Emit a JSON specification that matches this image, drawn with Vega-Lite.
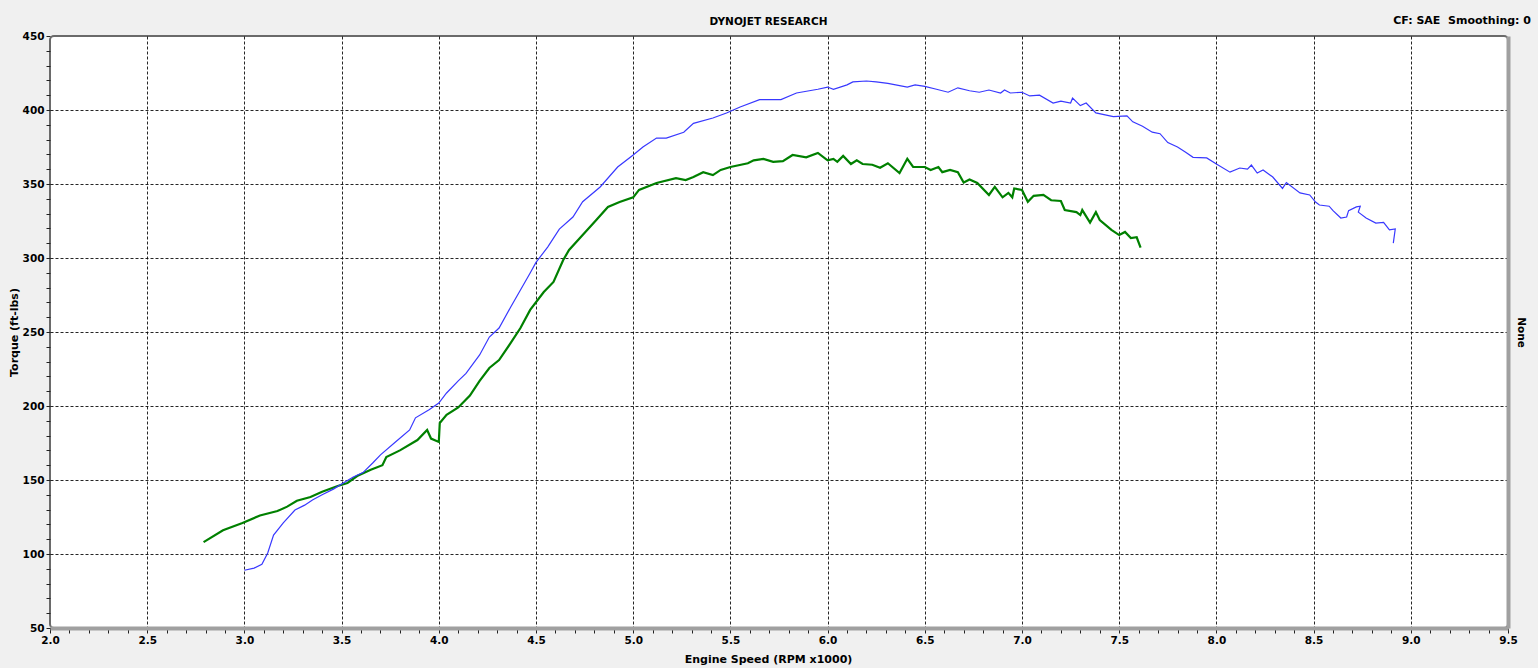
{
  "$schema": "https://vega.github.io/schema/vega-lite/v6.json",
  "width": 1458,
  "height": 592,
  "autosize": "none",
  "padding": {"left": 50, "top": 36, "right": 30, "bottom": 40},
  "background": "#f0f0f0",
  "config": {
    "view": {"fill": "white", "stroke": "#6a6a6a", "strokeWidth": 2, "cornerRadius": 4},
    "font": "DejaVu Sans",
    "axis": {"labelFont": "DejaVu Sans", "titleFont": "DejaVu Sans", "labelFontWeight": "bold", "titleFontWeight": "bold", "labelFontSize": 10.5, "titleFontSize": 11, "labelColor": "black", "titleColor": "black"}
  },
  "title": {"text": "CF: SAE\u00a0 Smoothing: 0", "anchor": "end", "frame": "group", "dx": 23, "dy": 14, "fontSize": 11, "fontWeight": "bold", "font": "DejaVu Sans", "color": "black"},
  "data": {"values": [
    {"s":"B","i":0,"rpm":2.79,"tq":108},{"s":"B","i":1,"rpm":2.89,"tq":116},{"s":"B","i":2,"rpm":2.99,"tq":121},{"s":"B","i":3,"rpm":3.08,"tq":126},{"s":"B","i":4,"rpm":3.17,"tq":129},{"s":"B","i":5,"rpm":3.22,"tq":132},{"s":"B","i":6,"rpm":3.27,"tq":136},{"s":"B","i":7,"rpm":3.34,"tq":138.5},{"s":"B","i":8,"rpm":3.40,"tq":142},{"s":"B","i":9,"rpm":3.48,"tq":146},{"s":"B","i":10,"rpm":3.53,"tq":148},{"s":"B","i":11,"rpm":3.58,"tq":152.7},{"s":"B","i":12,"rpm":3.65,"tq":157},{"s":"B","i":13,"rpm":3.71,"tq":160},{"s":"B","i":14,"rpm":3.73,"tq":165.5},{"s":"B","i":15,"rpm":3.80,"tq":170},{"s":"B","i":16,"rpm":3.89,"tq":177},{"s":"B","i":17,"rpm":3.94,"tq":183.8},{"s":"B","i":18,"rpm":3.96,"tq":178},{"s":"B","i":19,"rpm":4.00,"tq":175.7},{"s":"B","i":20,"rpm":4.005,"tq":188.5},{"s":"B","i":21,"rpm":4.04,"tq":194},{"s":"B","i":22,"rpm":4.10,"tq":199},{"s":"B","i":23,"rpm":4.16,"tq":207},{"s":"B","i":24,"rpm":4.21,"tq":217},{"s":"B","i":25,"rpm":4.26,"tq":225.7},{"s":"B","i":26,"rpm":4.31,"tq":231},{"s":"B","i":27,"rpm":4.37,"tq":242.6},{"s":"B","i":28,"rpm":4.42,"tq":252.7},{"s":"B","i":29,"rpm":4.47,"tq":264.9},{"s":"B","i":30,"rpm":4.54,"tq":277},{"s":"B","i":31,"rpm":4.59,"tq":283.8},{"s":"B","i":32,"rpm":4.64,"tq":298.6},{"s":"B","i":33,"rpm":4.67,"tq":305.4},{"s":"B","i":34,"rpm":4.74,"tq":315.5},{"s":"B","i":35,"rpm":4.81,"tq":325.7},{"s":"B","i":36,"rpm":4.87,"tq":334.5},{"s":"B","i":37,"rpm":4.93,"tq":337.8},{"s":"B","i":38,"rpm":5.00,"tq":341},{"s":"B","i":39,"rpm":5.03,"tq":346},{"s":"B","i":40,"rpm":5.12,"tq":350.7},{"s":"B","i":41,"rpm":5.22,"tq":354},{"s":"B","i":42,"rpm":5.27,"tq":352.7},{"s":"B","i":43,"rpm":5.31,"tq":354.7},{"s":"B","i":44,"rpm":5.36,"tq":358},{"s":"B","i":45,"rpm":5.41,"tq":356},{"s":"B","i":46,"rpm":5.45,"tq":359.5},{"s":"B","i":47,"rpm":5.50,"tq":361.5},{"s":"B","i":48,"rpm":5.59,"tq":364},{"s":"B","i":49,"rpm":5.62,"tq":366},{"s":"B","i":50,"rpm":5.67,"tq":367},{"s":"B","i":51,"rpm":5.72,"tq":365},{"s":"B","i":52,"rpm":5.77,"tq":365.5},{"s":"B","i":53,"rpm":5.82,"tq":369.6},{"s":"B","i":54,"rpm":5.89,"tq":368},{"s":"B","i":55,"rpm":5.95,"tq":371},{"s":"B","i":56,"rpm":6.00,"tq":366},{"s":"B","i":57,"rpm":6.03,"tq":367},{"s":"B","i":58,"rpm":6.05,"tq":365},{"s":"B","i":59,"rpm":6.08,"tq":369},{"s":"B","i":60,"rpm":6.12,"tq":363.5},{"s":"B","i":61,"rpm":6.15,"tq":366},{"s":"B","i":62,"rpm":6.18,"tq":363.5},{"s":"B","i":63,"rpm":6.23,"tq":363},{"s":"B","i":64,"rpm":6.27,"tq":361},{"s":"B","i":65,"rpm":6.31,"tq":364},{"s":"B","i":66,"rpm":6.37,"tq":357.4},{"s":"B","i":67,"rpm":6.41,"tq":367},{"s":"B","i":68,"rpm":6.44,"tq":361.5},{"s":"B","i":69,"rpm":6.50,"tq":361.5},{"s":"B","i":70,"rpm":6.53,"tq":359.5},{"s":"B","i":71,"rpm":6.57,"tq":361.5},{"s":"B","i":72,"rpm":6.59,"tq":358},{"s":"B","i":73,"rpm":6.63,"tq":359.5},{"s":"B","i":74,"rpm":6.67,"tq":358},{"s":"B","i":75,"rpm":6.70,"tq":351},{"s":"B","i":76,"rpm":6.73,"tq":353},{"s":"B","i":77,"rpm":6.77,"tq":350.7},{"s":"B","i":78,"rpm":6.83,"tq":342.6},{"s":"B","i":79,"rpm":6.86,"tq":348},{"s":"B","i":80,"rpm":6.90,"tq":341},{"s":"B","i":81,"rpm":6.93,"tq":344},{"s":"B","i":82,"rpm":6.95,"tq":341},{"s":"B","i":83,"rpm":6.96,"tq":347},{"s":"B","i":84,"rpm":7.00,"tq":346},{"s":"B","i":85,"rpm":7.03,"tq":338},{"s":"B","i":86,"rpm":7.06,"tq":342},{"s":"B","i":87,"rpm":7.11,"tq":342.6},{"s":"B","i":88,"rpm":7.15,"tq":339},{"s":"B","i":89,"rpm":7.20,"tq":338.5},{"s":"B","i":90,"rpm":7.22,"tq":332.4},{"s":"B","i":91,"rpm":7.28,"tq":331},{"s":"B","i":92,"rpm":7.30,"tq":329},{"s":"B","i":93,"rpm":7.31,"tq":332.4},{"s":"B","i":94,"rpm":7.35,"tq":324},{"s":"B","i":95,"rpm":7.38,"tq":331},{"s":"B","i":96,"rpm":7.40,"tq":325.7},{"s":"B","i":97,"rpm":7.46,"tq":319},{"s":"B","i":98,"rpm":7.50,"tq":315.5},{"s":"B","i":99,"rpm":7.53,"tq":317.6},{"s":"B","i":100,"rpm":7.56,"tq":313.5},{"s":"B","i":101,"rpm":7.59,"tq":314},{"s":"B","i":102,"rpm":7.61,"tq":307},
    {"s":"A","i":0,"rpm":3.00,"tq":89},{"s":"A","i":1,"rpm":3.05,"tq":90.5},{"s":"A","i":2,"rpm":3.09,"tq":93},{"s":"A","i":3,"rpm":3.12,"tq":100.7},{"s":"A","i":4,"rpm":3.15,"tq":112.8},{"s":"A","i":5,"rpm":3.20,"tq":121},{"s":"A","i":6,"rpm":3.26,"tq":129.7},{"s":"A","i":7,"rpm":3.31,"tq":133},{"s":"A","i":8,"rpm":3.35,"tq":136.5},{"s":"A","i":9,"rpm":3.40,"tq":140},{"s":"A","i":10,"rpm":3.46,"tq":144},{"s":"A","i":11,"rpm":3.50,"tq":147.3},{"s":"A","i":12,"rpm":3.56,"tq":152},{"s":"A","i":13,"rpm":3.61,"tq":155},{"s":"A","i":14,"rpm":3.66,"tq":161.5},{"s":"A","i":15,"rpm":3.70,"tq":167},{"s":"A","i":16,"rpm":3.78,"tq":176},{"s":"A","i":17,"rpm":3.85,"tq":183.8},{"s":"A","i":18,"rpm":3.88,"tq":192},{"s":"A","i":19,"rpm":3.95,"tq":197.5},{"s":"A","i":20,"rpm":4.00,"tq":202},{"s":"A","i":21,"rpm":4.04,"tq":208.8},{"s":"A","i":22,"rpm":4.10,"tq":217},{"s":"A","i":23,"rpm":4.14,"tq":222},{"s":"A","i":24,"rpm":4.21,"tq":234.5},{"s":"A","i":25,"rpm":4.26,"tq":246.6},{"s":"A","i":26,"rpm":4.31,"tq":252.7},{"s":"A","i":27,"rpm":4.37,"tq":266.9},{"s":"A","i":28,"rpm":4.42,"tq":278.4},{"s":"A","i":29,"rpm":4.47,"tq":289.9},{"s":"A","i":30,"rpm":4.50,"tq":297},{"s":"A","i":31,"rpm":4.56,"tq":307.4},{"s":"A","i":32,"rpm":4.62,"tq":319.5},{"s":"A","i":33,"rpm":4.69,"tq":327.7},{"s":"A","i":34,"rpm":4.74,"tq":338},{"s":"A","i":35,"rpm":4.83,"tq":348},{"s":"A","i":36,"rpm":4.92,"tq":361.5},{"s":"A","i":37,"rpm":5.00,"tq":369.6},{"s":"A","i":38,"rpm":5.05,"tq":375},{"s":"A","i":39,"rpm":5.12,"tq":381},{"s":"A","i":40,"rpm":5.17,"tq":381},{"s":"A","i":41,"rpm":5.26,"tq":385},{"s":"A","i":42,"rpm":5.31,"tq":391},{"s":"A","i":43,"rpm":5.41,"tq":394.6},{"s":"A","i":44,"rpm":5.48,"tq":398},{"s":"A","i":45,"rpm":5.55,"tq":402},{"s":"A","i":46,"rpm":5.65,"tq":407},{"s":"A","i":47,"rpm":5.76,"tq":407},{"s":"A","i":48,"rpm":5.84,"tq":411.5},{"s":"A","i":49,"rpm":5.95,"tq":414},{"s":"A","i":50,"rpm":6.00,"tq":415.5},{"s":"A","i":51,"rpm":6.03,"tq":414},{"s":"A","i":52,"rpm":6.10,"tq":417},{"s":"A","i":53,"rpm":6.13,"tq":419},{"s":"A","i":54,"rpm":6.20,"tq":419.6},{"s":"A","i":55,"rpm":6.25,"tq":419},{"s":"A","i":56,"rpm":6.31,"tq":418},{"s":"A","i":57,"rpm":6.41,"tq":415.5},{"s":"A","i":58,"rpm":6.45,"tq":417},{"s":"A","i":59,"rpm":6.50,"tq":416},{"s":"A","i":60,"rpm":6.56,"tq":414},{"s":"A","i":61,"rpm":6.62,"tq":412},{"s":"A","i":62,"rpm":6.67,"tq":415},{"s":"A","i":63,"rpm":6.73,"tq":413},{"s":"A","i":64,"rpm":6.78,"tq":412},{"s":"A","i":65,"rpm":6.83,"tq":413.5},{"s":"A","i":66,"rpm":6.89,"tq":411.5},{"s":"A","i":67,"rpm":6.91,"tq":413.5},{"s":"A","i":68,"rpm":6.94,"tq":411.5},{"s":"A","i":69,"rpm":7.00,"tq":412},{"s":"A","i":70,"rpm":7.04,"tq":409.5},{"s":"A","i":71,"rpm":7.09,"tq":410},{"s":"A","i":72,"rpm":7.16,"tq":404.7},{"s":"A","i":73,"rpm":7.20,"tq":406},{"s":"A","i":74,"rpm":7.25,"tq":404.7},{"s":"A","i":75,"rpm":7.26,"tq":408},{"s":"A","i":76,"rpm":7.30,"tq":403},{"s":"A","i":77,"rpm":7.33,"tq":404.7},{"s":"A","i":78,"rpm":7.38,"tq":398},{"s":"A","i":79,"rpm":7.47,"tq":395.5},{"s":"A","i":80,"rpm":7.54,"tq":396},{"s":"A","i":81,"rpm":7.57,"tq":392},{"s":"A","i":82,"rpm":7.62,"tq":389},{"s":"A","i":83,"rpm":7.67,"tq":385},{"s":"A","i":84,"rpm":7.71,"tq":384},{"s":"A","i":85,"rpm":7.75,"tq":378},{"s":"A","i":86,"rpm":7.80,"tq":375},{"s":"A","i":87,"rpm":7.84,"tq":371.6},{"s":"A","i":88,"rpm":7.88,"tq":368},{"s":"A","i":89,"rpm":7.95,"tq":367.6},{"s":"A","i":90,"rpm":8.00,"tq":363.5},{"s":"A","i":91,"rpm":8.07,"tq":358},{"s":"A","i":92,"rpm":8.12,"tq":360.8},{"s":"A","i":93,"rpm":8.16,"tq":360},{"s":"A","i":94,"rpm":8.18,"tq":362.8},{"s":"A","i":95,"rpm":8.21,"tq":357.4},{"s":"A","i":96,"rpm":8.24,"tq":359.5},{"s":"A","i":97,"rpm":8.29,"tq":354.7},{"s":"A","i":98,"rpm":8.34,"tq":347},{"s":"A","i":99,"rpm":8.36,"tq":351},{"s":"A","i":100,"rpm":8.43,"tq":344},{"s":"A","i":101,"rpm":8.48,"tq":342.6},{"s":"A","i":102,"rpm":8.51,"tq":337.8},{"s":"A","i":103,"rpm":8.53,"tq":335.8},{"s":"A","i":104,"rpm":8.58,"tq":335},{"s":"A","i":105,"rpm":8.60,"tq":332},{"s":"A","i":106,"rpm":8.64,"tq":327},{"s":"A","i":107,"rpm":8.67,"tq":327.7},{"s":"A","i":108,"rpm":8.68,"tq":332},{"s":"A","i":109,"rpm":8.72,"tq":334.5},{"s":"A","i":110,"rpm":8.74,"tq":335},{"s":"A","i":111,"rpm":8.73,"tq":331},{"s":"A","i":112,"rpm":8.77,"tq":327},{"s":"A","i":113,"rpm":8.82,"tq":323.6},{"s":"A","i":114,"rpm":8.86,"tq":324},{"s":"A","i":115,"rpm":8.89,"tq":319},{"s":"A","i":116,"rpm":8.92,"tq":319.6},{"s":"A","i":117,"rpm":8.91,"tq":310}
  ]},
  "resolve": {"axis": {"x": "independent", "y": "independent"}},
  "layer": [
    {
      "transform": [{"filter": "datum.s == 'B'"}],
      "mark": {"type": "line", "color": "#008000", "strokeWidth": 2.2, "interpolate": "linear"},
      "encoding": {
        "x": {"field": "rpm", "type": "quantitative", "scale": {"domain": [2, 9.5], "nice": false, "zero": false},
          "axis": {"orient": "bottom", "title": "Engine Speed (RPM x1000)", "titleX": 718, "titleY": 31, "titleAlign": "center", "titleBaseline": "middle",
            "values": [2,2.1,2.2,2.3,2.4,2.5,2.6,2.7,2.8,2.9,3,3.1,3.2,3.3,3.4,3.5,3.6,3.7,3.8,3.9,4,4.1,4.2,4.3,4.4,4.5,4.6,4.7,4.8,4.9,5,5.1,5.2,5.3,5.4,5.5,5.6,5.7,5.8,5.9,6,6.1,6.2,6.3,6.4,6.5,6.6,6.7,6.8,6.9,7,7.1,7.2,7.3,7.4,7.5,7.6,7.7,7.8,7.9,8,8.1,8.2,8.3,8.4,8.5,8.6,8.7,8.8,8.9,9,9.1,9.2,9.3,9.4,9.5],
            "labelExpr": "round(datum.value*10) % 5 == 0 ? format(datum.value, '.1f') : ''",
            "labelOverlap": false, "labelFlush": false, "labelPadding": 2,
            "grid": true, "gridColor": "black", "gridDash": [3, 2], "gridWidth": 1,
            "gridOpacity": {"condition": {"test": "round(datum.value*10) % 5 == 0 && datum.value > 2.01 && datum.value < 9.49", "value": 0.85}, "value": 0},
            "domain": true, "domainColor": "#a0a0a0", "domainWidth": 4,
            "ticks": true, "tickColor": "#222", "tickSize": 5, "tickWidth": 1}},
        "y": {"field": "tq", "type": "quantitative", "scale": {"domain": [50, 450], "nice": false, "zero": false},
          "axis": {"orient": "left", "title": "Torque (ft-lbs)", "titleX": -36, "titleY": 296, "titleAngle": 270, "titleAlign": "center", "titleBaseline": "middle",
            "values": [50,60,70,80,90,100,110,120,130,140,150,160,170,180,190,200,210,220,230,240,250,260,270,280,290,300,310,320,330,340,350,360,370,380,390,400,410,420,430,440,450],
            "labelExpr": "datum.value % 50 == 0 ? datum.value : ''",
            "labelOverlap": false, "labelFlush": false, "labelPadding": 2,
            "grid": true, "gridColor": "black", "gridDash": [3, 2], "gridWidth": 1,
            "gridOpacity": {"condition": {"test": "datum.value % 50 == 0 && datum.value > 50 && datum.value < 450", "value": 0.85}, "value": 0},
            "domain": false, "ticks": true, "tickColor": "#222", "tickSize": 4, "tickWidth": 1}},
        "order": {"field": "i", "type": "quantitative"}
      }
    },
    {
      "transform": [{"filter": "datum.s == 'A'"}],
      "mark": {"type": "line", "color": "#3838ff", "strokeWidth": 1.2, "interpolate": "linear"},
      "encoding": {
        "x": {"field": "rpm", "type": "quantitative",
          "axis": {"orient": "top", "title": "DYNOJET RESEARCH", "titleFontSize": 10.5, "titleX": 718, "titleY": -12, "titleAlign": "center", "titleBaseline": "alphabetic",
            "labels": false, "ticks": false, "domain": false, "grid": false}},
        "y": {"field": "tq", "type": "quantitative",
          "axis": {"orient": "right", "title": "None", "titleFontSize": 10.5, "titleX": 12, "titleY": 296, "titleAngle": 90, "titleAlign": "center", "titleBaseline": "middle",
            "labels": false, "ticks": false, "domain": true, "domainColor": "#a0a0a0", "domainWidth": 4, "grid": false}},
        "order": {"field": "i", "type": "quantitative"}
      }
    }
  ]
}
